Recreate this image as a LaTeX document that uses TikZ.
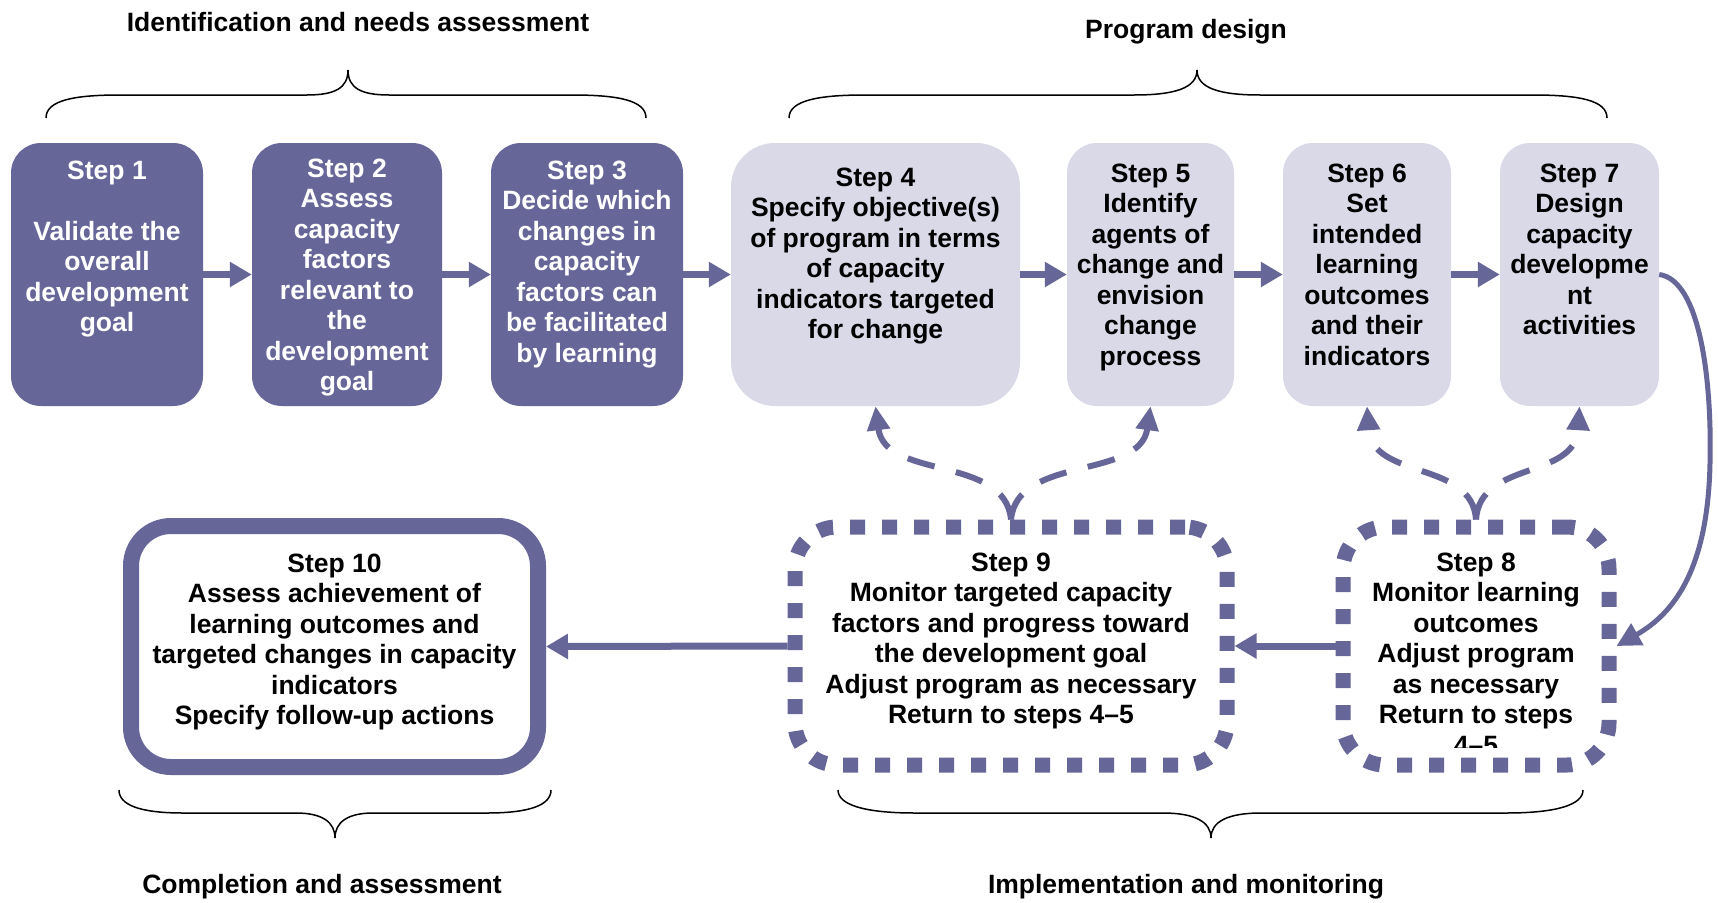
\documentclass[tikz,border=0pt]{standalone}
\usepackage{fontspec}
\setmainfont{Liberation Sans}
\usetikzlibrary{arrows.meta}
\definecolor{dk}{RGB}{102,102,153}
\definecolor{lt}{RGB}{217,217,232}
\begin{document}
\begin{tikzpicture}[x=1pt,y=-1pt,
  darkbox/.style={fill=dk, draw=none, rounded corners=30pt, inner sep=0pt, minimum height=263pt},
  lightbox/.style={fill=lt, draw=none, rounded corners=30pt, inner sep=0pt, minimum height=263pt},
  txt/.style={font=\bfseries\fontsize{26.5}{30.5}\selectfont, align=center, inner sep=0pt, anchor=north},
  lab/.style={font=\bfseries\fontsize{26.5}{30.5}\selectfont, inner sep=0pt, anchor=base},
  flow/.style={draw=dk, line width=7pt, -{Triangle[length=22pt,width=24pt]}},
  curvearrow/.style={draw=dk, line width=5pt, -{Triangle[length=24pt,width=24pt]}},
  dasharrow/.style={draw=dk, line width=6pt, dash pattern=on 28pt off 22pt, -{Triangle[length=24pt,width=22pt]}},
  dotbox/.style={draw=dk, line width=15pt, dash pattern=on 15pt off 17pt, fill=white, rounded corners=42pt, inner sep=0pt},
  thickbox/.style={draw=dk, line width=16pt, fill=white, rounded corners=40pt, inner sep=0pt},
  brace/.style={draw=black, line width=1.5pt}
]
\useasboundingbox[fill=white] (0,0) rectangle (1718,902);

% top row boxes
\node[darkbox, minimum width=192pt] (s1) at (107,274.5) {};
\node[darkbox, minimum width=190pt] (s2) at (347,274.5) {};
\node[darkbox, minimum width=192pt] (s3) at (587,274.5) {};
\node[lightbox, minimum width=289pt, rounded corners=44pt] (s4) at (875.5,274.5) {};
\node[lightbox, minimum width=167pt] (s5) at (1150.5,274.5) {};
\node[lightbox, minimum width=168pt] (s6) at (1367,274.5) {};
\node[lightbox, minimum width=159pt] (s7) at (1579.5,274.5) {};

\node[txt, text=white] (t1) at (107,160.5) {Step 1\\[30.5pt]Validate the\\overall\\development\\goal};
\node[txt, text=white] (t2) at (347,158.5) {Step 2\\Assess\\capacity\\factors\\relevant to\\the\\development\\goal};
\node[txt, text=white] (t3) at (587,160.5) {Step 3\\Decide which\\changes in\\capacity\\factors can\\be facilitated\\by learning};
\node[txt] (t4) at (875.5,167.5) {Step 4\\Specify objective(s)\\of program in terms\\of capacity\\indicators targeted\\for change};
\node[txt] (t5) at (1150.5,163.5) {Step 5\\Identify\\agents of\\change and\\envision\\change\\process};
\node[txt] (t6) at (1367,163.5) {Step 6\\Set\\intended\\learning\\outcomes\\and their\\indicators};
\node[txt] (t7) at (1579.5,163.5) {Step 7\\Design\\capacity\\developme\\nt\\activities};

% bottom row boxes
\node[thickbox, minimum width=407pt, minimum height=241pt] (s10) at (334.5,646.5) {};
\node[dotbox, minimum width=432pt, minimum height=238pt] (s9) at (1011,646) {};
\node[dotbox, minimum width=266pt, minimum height=238pt] (s8) at (1476,646) {};

\node[txt] (t10) at (334.5,553.5) {Step 10\\Assess achievement of\\learning outcomes and\\targeted changes in capacity\\indicators\\Specify follow-up actions};
\node[txt] (t9) at (1011,552.5) {Step 9\\Monitor targeted capacity\\factors and progress toward\\the development goal\\Adjust program as necessary\\Return to steps 4--5};
\begin{scope}
\clip (1350,530) rectangle (1600,747);
\node[txt] (t8) at (1476,552.5) {Step 8\\Monitor learning\\outcomes\\Adjust program\\as necessary\\Return to steps\\4--5};
\end{scope}

% straight arrows
\draw[flow] (s1.east) -- (s2.west);
\draw[flow] (s2.east) -- (s3.west);
\draw[flow] (s3.east) -- (s4.west);
\draw[flow] (s4.east) -- (s5.west);
\draw[flow] (s5.east) -- (s6.west);
\draw[flow] (s6.east) -- (s7.west);
\draw[flow] (s8.west) -- (s9.east);
\draw[flow] (s9.west) -- (s10.east);

% curved arrow 7 -> 8
\draw[curvearrow] (s7.east) .. controls (1700,280) and (1712,380) .. (1710,463) .. controls (1708,560) and (1680,610) .. (s8.east);

% dashed feedback arrows
\draw[dasharrow] (s9.north) .. controls (1005,455) and (885,480) .. (s4.south);
\draw[dasharrow] (s9.north) .. controls (1017,455) and (1140,480) .. (s5.south);
\draw[dasharrow] (s8.north) .. controls (1472,460) and (1372,480) .. (s6.south);
\draw[dasharrow] (s8.north) .. controls (1480,460) and (1575,480) .. (s7.south);

% braces
\draw[brace] (46,118) .. controls (46,100) and (75,95) .. (120,95) -- (307,95) .. controls (335,95) and (348,88) .. (348,70) .. controls (348,88) and (361,95) .. (389,95) -- (572,95) .. controls (617,95) and (646,100) .. (646,118);
\draw[brace] (789,118) .. controls (789,100) and (820,95) .. (865,95) -- (1134,95) .. controls (1175,95) and (1197,88) .. (1197,70) .. controls (1197,88) and (1219,95) .. (1260,95) -- (1533,95) .. controls (1578,95) and (1607,100) .. (1607,118);
\draw[brace] (119,790) .. controls (119,805) and (140,813) .. (183,813) -- (296,813) .. controls (322,813) and (335,822) .. (335,838) .. controls (335,822) and (348,813) .. (373,813) -- (487,813) .. controls (530,813) and (551,805) .. (551,790);
\draw[brace] (838,790) .. controls (838,805) and (865,813) .. (915,813) -- (1163,813) .. controls (1195,813) and (1211,822) .. (1211,838) .. controls (1211,822) and (1227,813) .. (1261,813) -- (1506,813) .. controls (1556,813) and (1583,805) .. (1583,790);

% phase labels
\node[lab] (l1) at (358,31) {Identification and needs assessment};
\node[lab] (l2) at (1186,38.5) {Program design};
\node[lab] (l3) at (322,893) {Completion and assessment};
\node[lab] (l4) at (1186,893) {Implementation and monitoring};
\end{tikzpicture}
\end{document}
